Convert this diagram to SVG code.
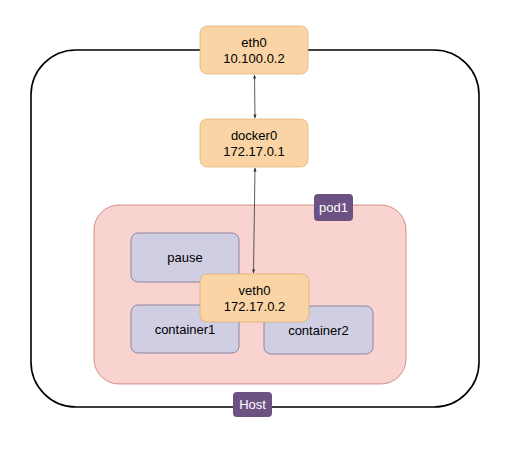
<svg xmlns="http://www.w3.org/2000/svg" width="517" height="455" viewBox="0 0 517 455">
<defs>
<style>
.txt{font-family:"Liberation Sans",Arial,sans-serif;font-size:13px;fill:#000;text-anchor:middle}
.lbl{font-family:"Liberation Sans",Arial,sans-serif;font-size:13px;fill:#fff;text-anchor:middle}
.orange{fill:#fad4a4;stroke:#d9a45a;stroke-width:0.6}
.box{fill:#d0cee2;stroke:#56517e;stroke-width:0.6}
.tag{fill:#6b5283;stroke:none}
.conn{stroke:#333;stroke-width:0.8;fill:none}
</style>
<marker id="ah" viewBox="0 0 10 10" refX="9" refY="5" markerWidth="5" markerHeight="5" orient="auto-start-reverse">
<path d="M0,1 L10,5 L0,9 Z" fill="#333"/>
</marker>
</defs>
<rect width="517" height="455" fill="#fff"/>
<g id="host">
<rect x="31" y="50" width="448" height="357" rx="45" ry="45" fill="none" stroke="#000" stroke-width="1.6"/>
<rect class="tag" x="233" y="392" width="39" height="25" rx="4"/>
<text class="lbl" x="252.5" y="409">Host</text>
</g>
<g id="pod1">
<rect x="94" y="205" width="312" height="179" rx="25" fill="#f8d3cf" stroke="#b85450" stroke-width="0.6"/>
<rect class="tag" x="314" y="194" width="39" height="27" rx="4"/>
<text class="lbl" x="333.5" y="212">pod1</text>
</g>
<g id="pause">
<rect class="box" x="131" y="233" width="108" height="49" rx="7"/>
<text class="txt" x="185" y="262">pause</text>
</g>
<g id="container1">
<rect class="box" x="131" y="305" width="108" height="48" rx="7"/>
<text class="txt" x="185" y="334">container1</text>
</g>
<g id="container2">
<rect class="box" x="264" y="306" width="109" height="48" rx="7"/>
<text class="txt" x="318.5" y="335">container2</text>
</g>
<g id="connectors">
<line class="conn" x1="254.5" y1="75" x2="255" y2="118" marker-start="url(#ah)" marker-end="url(#ah)"/>
<line class="conn" x1="255" y1="168" x2="253.5" y2="273" marker-start="url(#ah)" marker-end="url(#ah)"/>
</g>
<g id="eth0">
<rect class="orange" x="200" y="26" width="108" height="48" rx="7"/>
<text class="txt" x="254" y="47">eth0</text>
<text class="txt" x="254" y="63">10.100.0.2</text>
</g>
<g id="docker0">
<rect class="orange" x="200" y="119" width="108" height="48" rx="7"/>
<text class="txt" x="254" y="140">docker0</text>
<text class="txt" x="254" y="156">172.17.0.1</text>
</g>
<g id="veth0">
<rect class="orange" x="200" y="274" width="109" height="48" rx="7"/>
<text class="txt" x="254.5" y="295">veth0</text>
<text class="txt" x="254.5" y="311">172.17.0.2</text>
</g>
</svg>
